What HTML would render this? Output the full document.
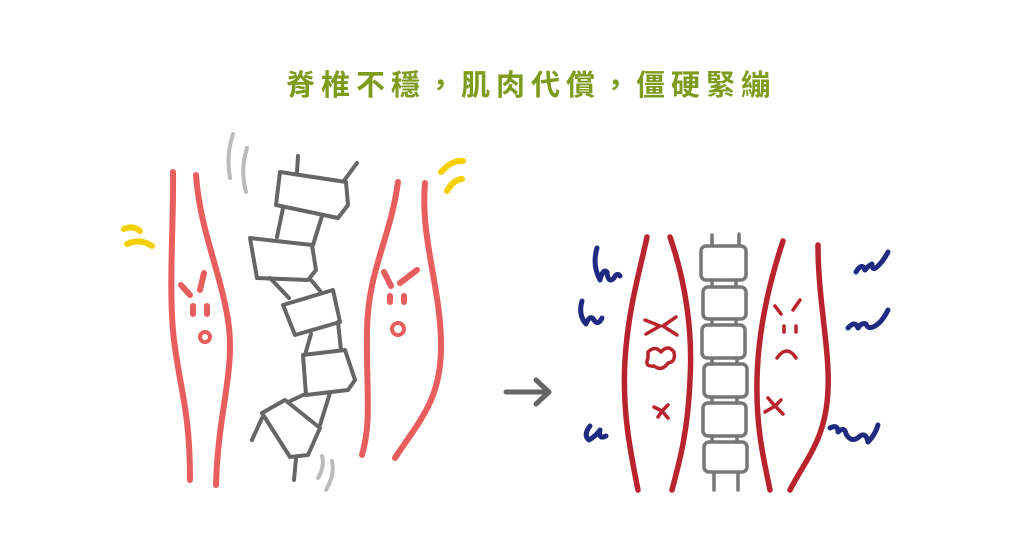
<!DOCTYPE html>
<html><head><meta charset="utf-8"><style>
html,body{margin:0;padding:0;background:#fff;width:1024px;height:536px;overflow:hidden}
.t{position:absolute;left:0;top:62px;width:1024px;text-align:center;font-family:"Liberation Sans","Noto Sans CJK TC",sans-serif;font-weight:bold;font-size:29px;letter-spacing:6px;color:#7d9b1c;text-indent:38px}
svg{position:absolute;left:0;top:0}
</style></head><body>
<div class="t">脊椎不穩，肌肉代償，僵硬緊繃</div>
<svg width="1024" height="536" viewBox="0 0 1024 536" fill="none" stroke-linecap="round" stroke-linejoin="round">
<g stroke="#e85d5d" stroke-width="6">
<path d="M173,172 C174,220 168,290 174,340 C180,390 190,410 190,480"/>
<path d="M196,175 C200,230 220,270 228,320 C236,370 218,410 216,485"/>
<path d="M398,182 C390,240 368,270 367,330 C366,390 372,420 362,455"/>
<path d="M425,183 C420,240 442,290 441,350 C440,400 420,420 395,458"/>
<path d="M181,285 L190,295 M204,273 L200,290 M193,306 V314 M207,306 V314"/>
<circle cx="205" cy="337" r="5" stroke-width="4"/>
<path d="M384,272 L391,286 M400,283 L417,270 M390,296 V302 M404,296 V302"/>
<circle cx="398" cy="329" r="6" stroke-width="4"/>
</g>
<g stroke="#f5d000" stroke-width="6">
<path d="M124,229 Q133,225 140,231 M127,244 Q140,238 152,246 M441,172 Q452,160 463,161 M447,191 Q453,180 462,179"/>
</g>
<g stroke="#bbb" stroke-width="4">
<path d="M233,134 Q226,155 230,178 M247,148 Q240,170 246,192 M322,456 Q325,466 318,478 M332,461 Q335,475 326,490"/>
</g>
<g stroke="#666" stroke-width="4" fill="#fff">
<path d="M298,156 L297,172 M357,163 L343,182"/>
<path d="M280,172 L346,182 L348,205 L338,218 L276,205 Z"/>
<path d="M283,208 L277,237 M322,216 L313,245"/>
<path d="M250,238 L312,245 L316,270 L308,280 L257,278 Z"/>
<path d="M270,278 L289,298 M311,280 L321,292"/>
<path d="M283,305 L333,290 L340,322 L295,335 Z"/>
<path d="M311,334 L305,355 M338,322 L341,350"/>
<path d="M303,355 L345,350 L355,380 L348,390 L306,395 Z"/>
<path d="M303,395 L282,405 M330,393 L320,425"/>
<path d="M262,413 L285,400 L320,428 L308,455 L290,457 Z"/>
<path d="M262,418 L252,440 M296,458 L294,480"/>
</g>
<g stroke="#666" stroke-width="5"><path d="M506,392 H548 M536,380 L549,392 L536,404"/></g>
<g stroke="#b8232d" stroke-width="5.5">
<path d="M647,237 C640,270 628,310 625,360 C622,410 630,450 638,490"/>
<path d="M670,237 C685,280 693,330 690,380 C688,430 680,460 672,490"/>
<path d="M783,241 C770,280 758,330 757,380 C756,430 764,460 770,490"/>
<path d="M818,245 C818,300 830,350 828,390 C826,440 805,460 790,490"/>
</g>
<g stroke="#b8232d" stroke-width="3.5">
<path d="M645,320 L660,326 L646,334 M676,317 L663,326 L677,335"/>
<path d="M648,352 Q655,345 661,352 Q668,344 674,352 Q676,362 668,363 Q662,372 654,366 Q644,367 648,358 Z"/>
<path d="M654,407 L662,411 L668,405 M658,417 L662,411 L668,418"/>
<path d="M775,306 L781,314 M800,300 L793,310 M784,326 V332 M796,326 V332"/>
<path d="M777,358 Q787,344 796,358"/>
<path d="M768,398 L775,406 L781,400 M765,412 L775,406 L783,414"/>
</g>
<g stroke="#777" stroke-width="3.5" fill="#fff">
<path d="M712,235 V247 M739,234 V246 M714,470 V490 M738,470 V490"/>
<rect x="701" y="246" width="45" height="34" rx="5"/>
<rect x="703" y="287" width="43" height="32" rx="5"/>
<rect x="702" y="325" width="43" height="33" rx="5"/>
<rect x="704" y="364" width="43" height="33" rx="5"/>
<rect x="703" y="403" width="43" height="33" rx="5"/>
<rect x="704" y="442" width="43" height="30" rx="5"/>
<path d="M712,280 V287 M736,280 V287 M712,319 V325 M736,319 V325 M712,358 V364 M737,358 V364 M712,397 V403 M737,397 V403 M712,436 V442 M737,436 V442" fill="none"/>
</g>
<g stroke="#1f2a80" stroke-width="5">
<path d="M597,248 Q592,265 600,280 Q603,268 607,272 Q608,284 614,278 Q617,272 620,276"/>
<path d="M582,301 Q578,315 586,324 Q590,314 594,320 Q598,326 602,318"/>
<path d="M590,426 Q583,435 589,440 Q596,436 600,430 Q598,440 606,436"/>
<path d="M856,272 Q862,262 865,270 Q868,266 872,264 Q872,272 878,266 Q884,260 888,252"/>
<path d="M848,328 Q855,320 858,328 Q862,322 866,324 Q868,330 875,326 Q882,322 888,310"/>
<path d="M830,428 Q838,424 838,432 Q845,426 846,434 Q852,444 860,436 Q866,432 868,442 Q875,435 878,425"/>
</g>
</svg>
</body></html>
